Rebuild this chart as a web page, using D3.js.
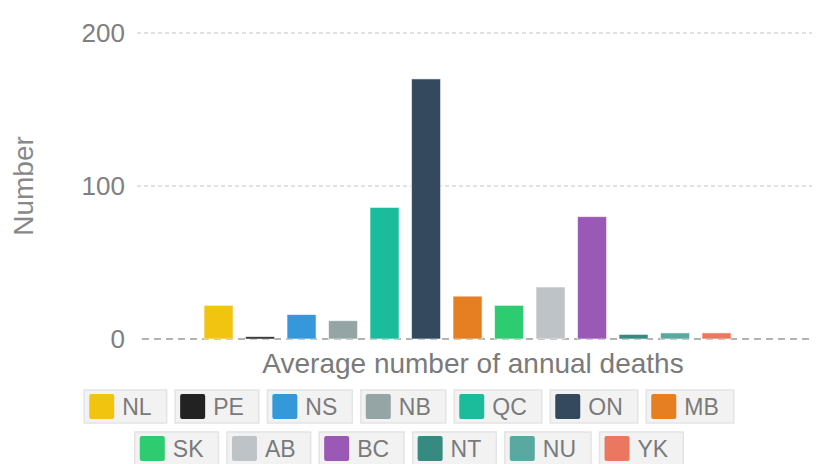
<!DOCTYPE html>
<html>
  <head>
    <meta charset="utf-8">
    <title>Average number of annual deaths</title>
    <script src="https://d3js.org/d3.v7.min.js" charset="utf-8"></script>
    <style>
      body { margin: 0; background: #fff; }
      text { font-family: "Liberation Sans", Arial, Helvetica, sans-serif; }
    </style>
  </head>
  <body>
    <script>
      var width = 823;
      var height = 464;

      // data
      var provinces = ["NL", "PE", "NS", "NB", "QC", "ON", "MB", "SK", "AB", "BC", "NT", "NU", "YK"];
      var deaths = [22, 1.5, 16, 12, 86, 170, 28, 22, 34, 80, 3, 4, 4];
      var colors = ["#f1c40f", "#222222", "#3498db", "#95a5a6", "#1abc9c", "#34495e", "#e67e22",
                    "#2ecc71", "#bdc3c7", "#9b59b6", "#368a80", "#5aa9a0", "#ec7760"];
      var yTicks = [0, 100, 200];
      var category = "Average number of annual deaths";

      var svg = d3.select("body")
          .append("svg")
          .attr("width", width)
          .attr("height", height);

      var y = d3.scaleLinear().domain([0, 200]).range([339, 33]);

      // one group, bars inside it
      var x0 = d3.scaleBand().domain([category]).range([142, 812]);
      var x1 = d3.scaleBand()
          .domain(provinces)
          .range([197.8, 737.3])
          .paddingInner(0.3)
          .paddingOuter(0.15);

      var color = d3.scaleOrdinal().domain(provinces).range(colors);

      // grid lines
      var grid = svg.append("g");
      grid.selectAll("line")
        .data(yTicks)
        .enter()
        .append("line")
        .attr("x1", function(d) { return d == 0 ? x0(category) : 137; })
        .attr("x2", x0(category) + x0.bandwidth())
        .attr("y1", function(d) { return y(d); })
        .attr("y2", function(d) { return y(d); })
        .attr("stroke", function(d) { return d == 0 ? "#9a9a9a" : "#c4c4c4"; })
        .attr("stroke-width", function(d) { return d == 0 ? 1.6 : 1; })
        .attr("stroke-dasharray", function(d) { return d == 0 ? "7,5" : "4,3"; });

      // y axis
      var yAxis = d3.axisLeft(y).tickValues(yTicks).tickSize(0).tickPadding(0);
      var ya = svg.append("g")
          .attr("transform", "translate(125,0)")
          .call(yAxis);
      ya.select(".domain").remove();
      ya.selectAll("text")
        .attr("fill", "#808080")
        .style("font-size", "26px")
        .style("font-family", "'Liberation Sans', Arial, sans-serif");

      svg.append("text")
        .attr("transform", "translate(33,186) rotate(-90)")
        .attr("text-anchor", "middle")
        .attr("fill", "#888")
        .style("font-size", "28px")
        .text("Number");

      // bars
      var rows = provinces.map(function(p, i) { return { name: p, value: deaths[i] }; });
      svg.append("g").selectAll("rect")
        .data(rows)
        .enter()
        .append("rect")
        .attr("x", function(d) { return x1(d.name); })
        .attr("y", function(d) { return y(d.value); })
        .attr("width", x1.bandwidth())
        .attr("height", function(d) { return y(0) - y(d.value); })
        .attr("fill", function(d) { return color(d.name); })
        .attr("stroke", "#ffffff")
        .attr("stroke-opacity", 0.6)
        .attr("stroke-width", 1);

      // category label
      svg.append("text")
        .attr("x", 473)
        .attr("y", 373)
        .attr("text-anchor", "middle")
        .attr("fill", "#7a7a7a")
        .style("font-size", "28px")
        .text(category);

      // legend, two centred rows
      var legendFont = 23;
      var measure = svg.append("text").style("font-size", legendFont + "px");
      var items = provinces.map(function(p) {
        measure.text(p);
        return { name: p, w: 53 + measure.node().getComputedTextLength() };
      });
      measure.remove();

      var gap = 8.5, maxRow = 700, lines = [[]], rowW = [0];
      items.forEach(function(it) {
        var r = lines.length - 1;
        var need = rowW[r] + (lines[r].length ? gap : 0) + it.w;
        if (need > maxRow && lines[r].length) {
          lines.push([it]); rowW.push(it.w);
        } else {
          lines[r].push(it); rowW[r] = need;
        }
      });

      var legend = svg.append("g");
      lines.forEach(function(line, r) {
        var left = 409 - rowW[r] / 2;
        var top = 390 + r * 42;
        line.forEach(function(it) {
          var g = legend.append("g").attr("transform", "translate(" + left + "," + top + ")");
          g.append("rect")
            .attr("width", it.w)
            .attr("height", 33)
            .attr("fill", "#f2f2f2")
            .attr("stroke", "#e4e4e4")
            .attr("stroke-width", 1.5);
          g.append("rect")
            .attr("x", 5)
            .attr("y", 4)
            .attr("width", 25)
            .attr("height", 25)
            .attr("rx", 2)
            .attr("fill", color(it.name));
          g.append("text")
            .attr("x", 38)
            .attr("y", 25)
            .attr("fill", "#7a7a7a")
            .style("font-size", legendFont + "px")
            .text(it.name);
          left += it.w + gap;
        });
      });
    </script>
  </body>
</html>
